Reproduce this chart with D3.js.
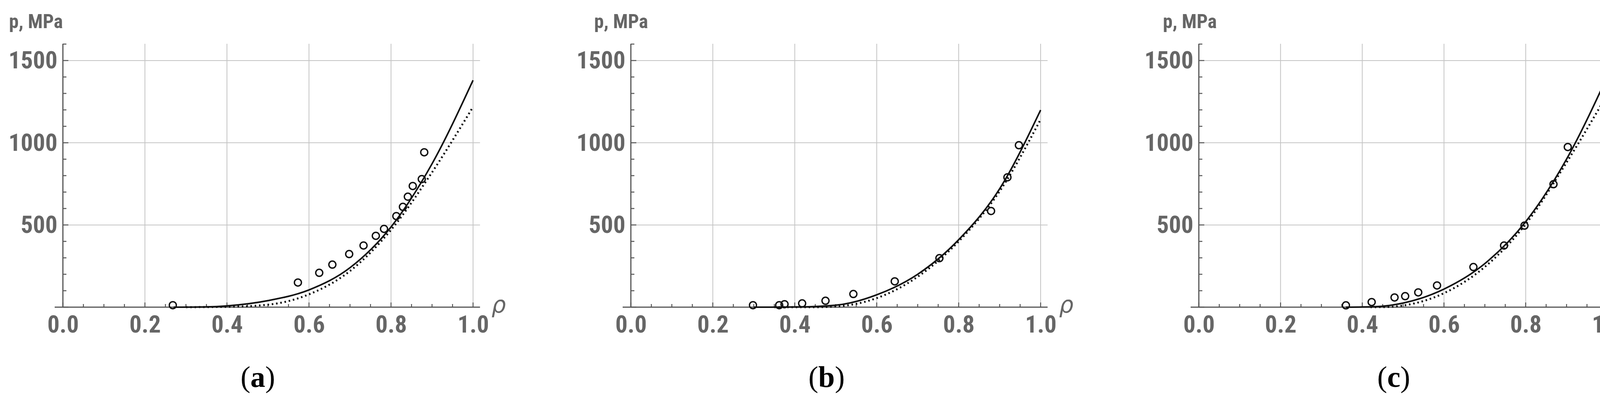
<!DOCTYPE html>
<html><head><meta charset="utf-8">
<script src="https://cdn.jsdelivr.net/npm/d3@7"></script>
<style>html,body{margin:0;padding:0;background:#fff;overflow:hidden}svg{display:block}</style></head>
<body><svg id="c" width="4218" height="1021"></svg>
<script>
const panelLabels=["a","b","c"];
const xTicks=[0,0.2,0.4,0.6,0.8,1.0];
const yTicks=[500,1000,1500];
const ptsA=[[.268,12],[.573,150],[.625,209],[.657,259],[.698,323],[.733,375],[.763,434],[.783,476],[.813,554],[.829,610],[.841,672],[.853,737],[.875,779],[.881,942]];
const ptsB=[[.298,12],[.362,12],[.375,18],[.418,23],[.475,39],[.543,80],[.644,157],[.753,298],[.879,585],[.919,790],[.947,985]];
const ptsC=[[.360,11],[.423,31],[.479,59],[.505,67],[.537,90],[.583,132],[.672,244],[.747,375],[.797,496],[.868,748],[.903,974]];
const solidA=[[.27,0],[.35,2],[.4,8],[.5,40],[.6,105],[.7,240],[.8,488],[.9,872],[1,1380]];
const dotA=[[.3,0],[.4,2],[.5,15],[.6,78],[.7,220],[.8,470],[.9,820],[1,1218]];
const solidB=[[.3,0],[.4,1],[.5,12],[.6,75],[.7,200],[.8,410],[.9,720],[1,1199]];
const dotB=[[.35,0],[.45,0],[.5,4],[.6,55],[.7,185],[.8,400],[.9,705],[1,1142]];
const solidC=[[.36,0],[.43,3],[.5,25],[.6,110],[.7,265],[.8,520],[.9,900],[1,1404]];
const dotC=[[.42,0],[.46,1],[.5,10],[.6,85],[.7,245],[.8,505],[.9,880],[1,1295]];
const panels=[
 {pts:ptsA,solid:solidA,dot:dotA,x0:161,x1:1211,lab:660,tx:23},
 {pts:ptsB,solid:solidB,dot:dotB,x0:1615,x1:2664,lab:2116,tx:1521},
 {pts:ptsC,solid:solidC,dot:dotC,x0:3069,x1:4115,lab:3568,tx:2977}];
const svg=d3.select("#c");
const gray="#666";
const font="'Liberation Sans Narrow','Roboto Condensed',Roboto,Arial,sans-serif";
panels.forEach((p,i)=>{
 const x=d3.scaleLinear().domain([0,1]).range([p.x0,p.x1]);
 const y=d3.scaleLinear().domain([0,1602]).range([786,112]);
 const g=svg.append("g");
 g.selectAll(".gx").data(xTicks.slice(1)).enter().append("line")
  .attr("x1",d=>x(d)).attr("x2",d=>x(d)).attr("y1",y(1602)).attr("y2",y(0)).attr("stroke","#c4c4c4").attr("stroke-width",2);
 g.selectAll(".gy").data(yTicks).enter().append("line")
  .attr("x1",x(0)).attr("x2",x(1.017)).attr("y1",d=>y(d)).attr("y2",d=>y(d)).attr("stroke","#c4c4c4").attr("stroke-width",2);
 const xa=d3.axisBottom(x).tickValues(xTicks).tickFormat(d3.format(".1f")).tickSize(0).tickPadding(18);
 const xg=g.append("g").attr("transform","translate(0,786)").call(xa);
 xg.select(".domain").remove();
 xg.selectAll("text").attr("fill",gray).attr("font-size",62).attr("font-weight","bold").attr("font-family",font).attr("dy","0.75em");
 const ya=d3.axisLeft(y).tickValues(yTicks).tickFormat(d3.format("d")).tickSize(0).tickPadding(14);
 const yg=g.append("g").attr("transform",`translate(${x(0)},0)`).call(ya);
 yg.select(".domain").remove();
 yg.selectAll("text").attr("fill",gray).attr("font-size",62).attr("font-weight","bold").attr("font-family",font);
 g.append("line").attr("x1",x(-0.02)).attr("x2",x(1.017)).attr("y1",786).attr("y2",786).attr("stroke","#555").attr("stroke-width",3);
 g.append("line").attr("x1",x(0)).attr("x2",x(0)).attr("y1",y(1602)).attr("y2",786).attr("stroke","#555").attr("stroke-width",3);
 const xm=d3.range(0,1.001,0.05);
 g.selectAll(".xm").data(xm).enter().append("line").attr("x1",d=>x(d)).attr("x2",d=>x(d)).attr("y1",786).attr("y2",d=>Math.round(d*100)%20===0?774:778).attr("stroke","#555").attr("stroke-width",2.5);
 const ym=d3.range(0,1601,100);
 g.selectAll(".ym").data(ym).enter().append("line").attr("y1",d=>y(d)).attr("y2",d=>y(d)).attr("x1",x(0)).attr("x2",d=>x(0)+(d%500===0?14:9)).attr("stroke","#555").attr("stroke-width",2.5);
 const line=d3.line().x(d=>x(d[0])).y(d=>y(d[1])).curve(d3.curveMonotoneX);
 g.append("path").attr("d",line(p.solid)).attr("fill","none").attr("stroke","#111").attr("stroke-width",4);
 g.append("path").attr("d",line(p.dot)).attr("fill","none").attr("stroke","#111").attr("stroke-width",5).attr("stroke-dasharray","4,7");
 g.selectAll(".pt").data(p.pts).enter().append("circle").attr("cx",d=>x(d[0])).attr("cy",d=>y(d[1])).attr("r",9).attr("fill","none").attr("stroke","#111").attr("stroke-width",3.5);
 g.append("text").attr("x",p.tx).attr("y",72).text("p, MPa").attr("fill",gray).attr("font-size",50).attr("font-weight","bold").attr("font-family",font);
 g.append("text").attr("x",x(1.045)).attr("y",800).text("ρ").attr("fill",gray).attr("font-size",58).attr("font-style","italic").attr("font-family","DejaVu Sans, sans-serif");
 const t=g.append("text").attr("x",p.lab).attr("y",990).attr("text-anchor","middle").attr("font-size",76).attr("font-family","Liberation Serif, Times New Roman, serif").attr("fill","#000");
 t.append("tspan").text("(");t.append("tspan").attr("font-weight","bold").text(panelLabels[i]);t.append("tspan").text(")");
});
</script></body></html>
